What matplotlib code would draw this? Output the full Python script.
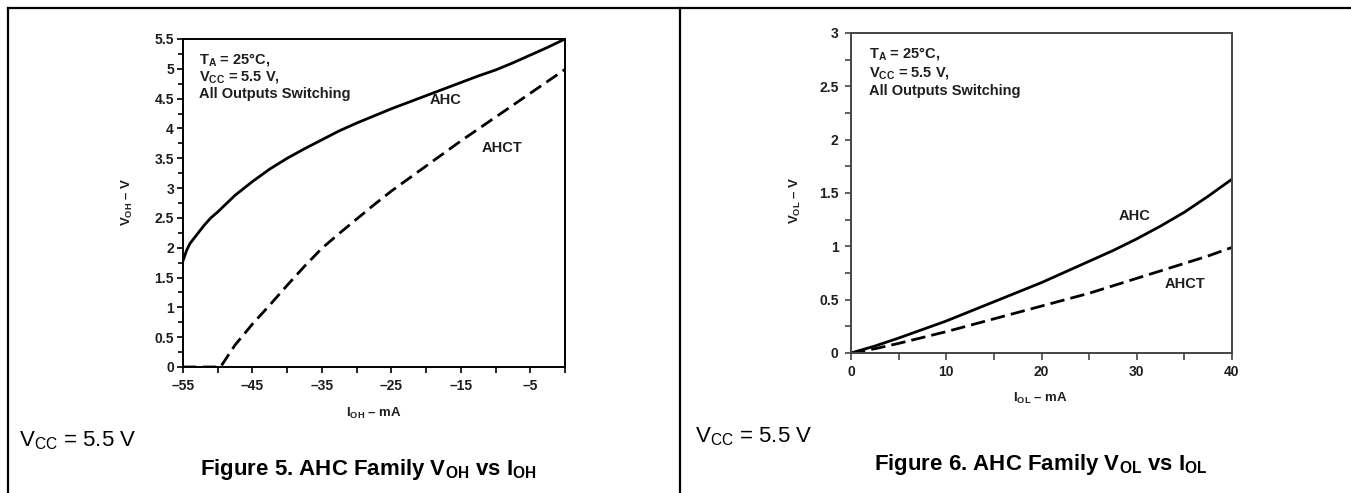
import matplotlib
matplotlib.use("Agg")
import matplotlib.pyplot as plt
from matplotlib import font_manager
from matplotlib.lines import Line2D
from matplotlib.ticker import MultipleLocator

# ---------------- data ----------------
# Figure 5: V_OH vs I_OH
ioh_ahc = [-55, -54.5, -54, -53, -52, -51, -50, -47.5, -45, -42.5, -40, -37.5, -35, -32.5, -30,
           -27.5, -25, -22.5, -20, -17.5, -15, -12.5, -10, -7.5, -5, -2.5, 0]
voh_ahc = [1.78, 1.95, 2.07, 2.22, 2.37, 2.5, 2.6, 2.88, 3.11, 3.32, 3.5, 3.66, 3.81, 3.96, 4.09,
           4.21, 4.33, 4.44, 4.55, 4.66, 4.77, 4.88, 4.98, 5.1, 5.23, 5.36, 5.5]
ioh_ahct = [-55, -50, -49.6, -47.5, -45, -42.5, -40, -37.5, -35, -32.5, -30, -27.5, -25,
            -22.5, -20, -17.5, -15, -12.5, -10, -7.5, -5, -2.5, 0]
voh_ahct = [0, 0, 0.0, 0.37, 0.72, 1.04, 1.37, 1.69, 1.99, 2.24, 2.48, 2.72, 2.95,
            3.16, 3.37, 3.58, 3.79, 3.99, 4.19, 4.39, 4.59, 4.79, 4.99]
f5_xticks = [-55, -50, -45, -40, -35, -30, -25, -20, -15, -10, -5, 0]
f5_xticklabels = ["\u201355", "", "\u201345", "", "\u201335", "", "\u201325", "", "\u201315", "", "\u20135", ""]
f5_yticks = [0, 0.5, 1, 1.5, 2, 2.5, 3, 3.5, 4, 4.5, 5, 5.5]
f5_yticklabels = ["0", "0.5", "1", "1.5", "2", "2.5", "3", "3.5", "4", "4.5", "5", "5.5"]

# Figure 6: V_OL vs I_OL
iol = [0, 2.5, 5, 7.5, 10, 12.5, 15, 17.5, 20, 22.5, 25, 27.5, 30, 32.5, 35, 37.5, 40]
vol_ahc = [0, 0.065, 0.14, 0.22, 0.3, 0.39, 0.48, 0.57, 0.66, 0.76, 0.86, 0.96, 1.07,
           1.19, 1.32, 1.47, 1.63]
vol_ahct = [0, 0.04, 0.09, 0.145, 0.2, 0.26, 0.32, 0.38, 0.44, 0.5, 0.56, 0.63, 0.70,
            0.77, 0.84, 0.91, 0.99]
f6_xticks = [0, 5, 10, 15, 20, 25, 30, 35, 40]
f6_xticklabels = ["0", "", "10", "", "20", "", "30", "", "40"]
f6_yticks = [0, 0.5, 1, 1.5, 2, 2.5, 3]
f6_yticklabels = ["0", "0.5", "1", "1.5", "2", "2.5", "3"]

# ---------------- fonts ----------------
def has_font(name):
    try:
        font_manager.findfont(font_manager.FontProperties(family=name), fallback_to_default=False)
        return True
    except Exception:
        return False

BASE = "Liberation Sans" if has_font("Liberation Sans") else "DejaVu Sans"

plt.rcParams["font.family"] = [BASE, "DejaVu Sans"]
plt.rcParams["mathtext.fontset"] = "custom"
plt.rcParams["mathtext.rm"] = BASE
plt.rcParams["mathtext.bf"] = BASE + ":bold"
plt.rcParams["mathtext.it"] = BASE + ":italic"

W, H = 1351, 493
fig = plt.figure(figsize=(W / 100, H / 100), dpi=100)


def fx(px):
    return px / W


def fy(py):
    return 1 - py / H


# outer frame
for (x0, y0, x1, y1) in [(8, 8, 1351, 8), (8, 8, 8, 493), (680, 8, 680, 493)]:
    fig.add_artist(Line2D([fx(x0), fx(x1)], [fy(y0), fy(y1)], color="black", lw=1.6,
                          transform=fig.transFigure))

TXT = "#1e1e1e"
TICK_FS = 10
ANN_FS = 10.5
LAB_FS = 9.5
CAP_FS = 16


def style_axes(ax, spine_color):
    for s in ax.spines.values():
        s.set_color(spine_color)
        s.set_linewidth(1.4)
    ax.tick_params(axis="both", which="major", direction="out", length=4.5, width=1.2,
                   color=spine_color, labelsize=TICK_FS, pad=2, labelcolor=TXT)
    ax.tick_params(axis="both", which="minor", direction="out", length=3.5, width=1.2,
                   color=spine_color)
    for lab in ax.get_xticklabels() + ax.get_yticklabels():
        lab.set_fontweight("bold")


# ---------------- Figure 5 ----------------
ax1 = fig.add_axes([fx(183), fy(367), fx(565) - fx(183), fy(39) - fy(367)])
ax1.plot(ioh_ahc, voh_ahc, color="black", lw=2.0)
ax1.plot(ioh_ahct, voh_ahct, color="black", lw=2.0, dashes=(4.8, 2.3))
ax1.set_xlim(-55, 0)
ax1.set_ylim(0, 5.5)
ax1.set_xticks(f5_xticks)
ax1.set_xticklabels(f5_xticklabels)
ax1.set_yticks(f5_yticks)
ax1.set_yticklabels(f5_yticklabels)
ax1.yaxis.set_minor_locator(MultipleLocator(0.25))
style_axes(ax1, "black")
ax1.tick_params(axis="x", pad=4)

ax1.text(0.042, 0.939, r"$\mathbf{T_{A}}$ = 25°C,", transform=ax1.transAxes, fontsize=ANN_FS,
         fontweight="bold", va="center", ha="left", color=TXT)
ax1.text(0.042, 0.884, r"$\mathbf{V_{CC}}$ = 5.5 V,", transform=ax1.transAxes, fontsize=ANN_FS,
         fontweight="bold", va="center", ha="left", color=TXT)
ax1.text(0.042, 0.832, "All Outputs Switching", transform=ax1.transAxes, fontsize=ANN_FS,
         fontweight="bold", va="center", ha="left", color=TXT)
ax1.text(-17.2, 4.48, "AHC", fontsize=ANN_FS, fontweight="bold", ha="center", va="center", color=TXT)
ax1.text(-9.1, 3.68, "AHCT", fontsize=ANN_FS, fontweight="bold", ha="center", va="center", color=TXT)

fig.text(fx(127), fy(202), "$\\mathbf{V_{OH}}$ \u2013 V", rotation=90,
         fontsize=LAB_FS, fontweight="bold", ha="center", va="center", color=TXT)
fig.text(fx(374), fy(413), "$\\mathbf{I_{OH}}$ \u2013 mA",
         fontsize=LAB_FS, fontweight="bold", ha="center", va="center", color=TXT)
fig.text(fx(19), fy(441), r"$\mathregular{V_{CC}}$ = 5.5 V", fontsize=CAP_FS, ha="left", va="center")
fig.text(fx(368), fy(475), r"Figure 5. AHC Family $\mathbf{V_{OH}}$ vs $\mathbf{I_{OH}}$",
         fontsize=CAP_FS, fontweight="bold", ha="center", va="baseline")

# ---------------- Figure 6 ----------------
ax2 = fig.add_axes([fx(851), fy(353), fx(1232) - fx(851), fy(33) - fy(353)])
ax2.plot(iol, vol_ahc, color="black", lw=2.0)
ax2.plot(iol, vol_ahct, color="black", lw=2.0, dashes=(5.2, 2.2))
ax2.set_xlim(0, 40)
ax2.set_ylim(0, 3)
ax2.set_xticks(f6_xticks)
ax2.set_xticklabels(f6_xticklabels)
ax2.set_yticks(f6_yticks)
ax2.set_yticklabels(f6_yticklabels)
ax2.yaxis.set_minor_locator(MultipleLocator(0.25))
style_axes(ax2, "#444444")
ax2.tick_params(axis="y", which="both", length=4, pad=5)
ax2.tick_params(axis="x", length=5, pad=4)

ax2.text(0.047, 0.937, r"$\mathbf{T_{A}}$ = 25°C,", transform=ax2.transAxes, fontsize=ANN_FS,
         fontweight="bold", va="center", ha="left", color=TXT)
ax2.text(0.047, 0.874, r"$\mathbf{V_{CC}}$ = 5.5 V,", transform=ax2.transAxes, fontsize=ANN_FS,
         fontweight="bold", va="center", ha="left", color=TXT)
ax2.text(0.047, 0.819, "All Outputs Switching", transform=ax2.transAxes, fontsize=ANN_FS,
         fontweight="bold", va="center", ha="left", color=TXT)
ax2.text(29.8, 1.28, "AHC", fontsize=ANN_FS, fontweight="bold", ha="center", va="center", color=TXT)
ax2.text(35.1, 0.644, "AHCT", fontsize=ANN_FS, fontweight="bold", ha="center", va="center", color=TXT)

fig.text(fx(795), fy(200), "$\\mathbf{V_{OL}}$ \u2013 V", rotation=90,
         fontsize=LAB_FS, fontweight="bold", ha="center", va="center", color=TXT)
fig.text(fx(1040), fy(398), "$\\mathbf{I_{OL}}$ \u2013 mA",
         fontsize=LAB_FS, fontweight="bold", ha="center", va="center", color=TXT)
fig.text(fx(695), fy(437), r"$\mathregular{V_{CC}}$ = 5.5 V", fontsize=CAP_FS, ha="left", va="center")
fig.text(fx(1041), fy(470), r"Figure 6. AHC Family $\mathbf{V_{OL}}$ vs $\mathbf{I_{OL}}$",
         fontsize=CAP_FS, fontweight="bold", ha="center", va="baseline")

fig.savefig("out.png", dpi=100)
